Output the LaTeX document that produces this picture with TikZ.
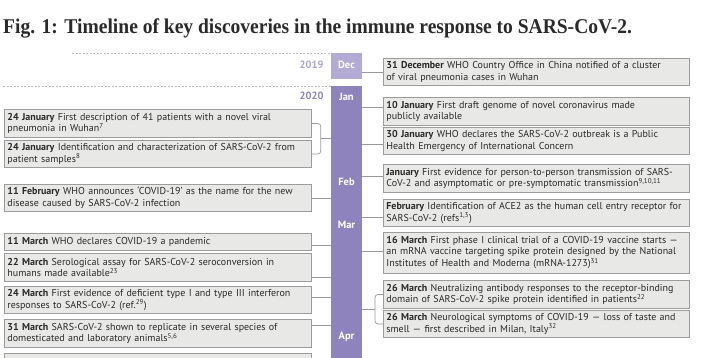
\documentclass[tikz,border=0pt]{standalone}
\usepackage{fontspec}
\setmainfont{PT Sans}
\newfontfamily\titlefont{Liberation Serif}
\usetikzlibrary{positioning,calc}
\definecolor{boxfill}{HTML}{E8E8E6}
\definecolor{boxline}{HTML}{9C9C9C}
\definecolor{linkgrey}{HTML}{9A9A9A}
\definecolor{janpurple}{HTML}{8F83BE}
\definecolor{decpurple}{HTML}{B4AAD6}
\definecolor{yrlight}{HTML}{ACA3CF}
\definecolor{yrdark}{HTML}{8C84B4}
\definecolor{ink}{HTML}{2A2A2A}
\newcommand\sref[1]{\textsuperscript{#1}}
\newcommand\evtfont{\fontsize{10}{11.8}\selectfont\color{ink}}

\begin{document}
\begin{tikzpicture}[x=1pt, y=-1pt,
  evt/.style={draw=boxline, fill=boxfill, line width=0.8pt, text width=#1,
    align=left, inner xsep=3pt, inner ysep=0pt, minimum height=27.5pt,
    anchor=west, font=\evtfont},
  evt/.default=301pt,
  bar/.style={inner sep=0pt, minimum width=31pt, anchor=north west},
  mon/.style={text=white, font=\fontsize{10.5}{12}\selectfont\bfseries},
  yr/.style={anchor=east, font=\fontsize{10.5}{12}\selectfont\bfseries},
  link/.style={draw=linkgrey, line width=0.7pt},
  guide/.style={draw=boxline!70, line width=0.5pt, dash pattern=on 2pt off 1.5pt}
]
\useasboundingbox (0,0) rectangle (705,358);

% title
\node[anchor=west, inner sep=0pt, text=ink] (title) at (3,28)
  {\titlefont\bfseries\fontsize{21}{24}\selectfont\scalebox{0.93}[1]{Fig. 1: Timeline of key discoveries in the immune response to SARS-CoV-2.}};

% timeline bar
\node[bar, fill=decpurple, minimum height=26pt] (decbar) at (331,53) {};
\node[bar, fill=janpurple, minimum height=320pt] (janbar) at (331,86) {};
\foreach \m/\y in {Dec/65, Jan/97, Feb/182, Mar/225, Apr/337}
  \node[mon] (m\m) at (346.5,\y) {\m};

\node[yr, text=yrlight] (y2019) at (327,65) {2019};
\node[yr, text=yrdark] (y2020) at (327,96) {2020};
\coordinate (d19) at (72,53);
\coordinate (d20) at (3,86);
\draw[guide] (d19) -- (decbar.north west);
\draw[guide] (d20) -- (janbar.north west);

% left column
\node[evt] (L1) at (4,123.5) {\textbf{24 January} First description of 41 patients with a novel viral\\pneumonia in Wuhan\sref{7}};
\node[evt] (L2) at (4,154) {\textbf{24 January} Identification and characterization of SARS-CoV-2 from\\patient samples\sref{8}};
\node[evt] (L3) at (4,198) {\textbf{11 February} WHO announces ‘COVID-19’ as the name for the new\\disease caused by SARS-CoV-2 infection};
\node[evt, minimum height=17pt] (L4) at (4,241.5) {\textbf{11 March} WHO declares COVID-19 a pandemic};
\node[evt] (L5) at (4,267.5) {\textbf{22 March} Serological assay for SARS-CoV-2 seroconversion in\\humans made available\sref{23}};
\node[evt] (L6) at (4,300) {\textbf{24 March} First evidence of deficient type I and type III interferon\\responses to SARS-CoV-2 (ref.\sref{29})};
\node[evt] (L7) at (4,333.5) {\textbf{31 March} SARS-CoV-2 shown to replicate in several species of\\domesticated and laboratory animals\sref{5,6}};
\node[evt] (L8) at (4,367) {};

% right column
\node[evt=300pt] (R1) at (383,72) {\textbf{31 December} WHO Country Office in China notified of a cluster\\of viral pneumonia cases in Wuhan};
\node[evt=300pt] (R2) at (383,111.5) {\textbf{10 January} First draft genome of novel coronavirus made\\publicly available};
\node[evt=300pt] (R3) at (383,141) {\textbf{30 January} WHO declares the SARS-CoV-2 outbreak is a Public\\Health Emergency of International Concern};
\node[evt=300pt] (R4) at (383,178.5) {\textbf{January} First evidence for person-to-person transmission of SARS-\\CoV-2 and asymptomatic or pre-symptomatic transmission\sref{9,10,11}};
\node[evt=300pt] (R5) at (383,213) {\textbf{February} Identification of ACE2 as the human cell entry receptor for\\SARS-CoV-2 (refs\sref{1,3})};
\node[evt=300pt, minimum height=41pt] (R6) at (383,252.5) {\textbf{16 March} First phase I clinical trial of a COVID-19 vaccine starts —\\an mRNA vaccine targeting spike protein designed by the National\\Institutes of Health and Moderna (mRNA-1273)\sref{31}};
\node[evt=300pt] (R7) at (383,294.5) {\textbf{26 March} Neutralizing antibody responses to the receptor-binding\\domain of SARS-CoV-2 spike protein identified in patients\sref{22}};
\node[evt=300pt] (R8) at (383,324) {\textbf{26 March} Neurological symptoms of COVID-19 — loss of taste and\\smell — first described in Milan, Italy\sref{32}};

% connectors
\draw[link, rounded corners=3pt] (L1.east) -- ++(9,0) |- (L2.east);
\coordinate (lbr) at ($(L1.east)!.5!(L2.east)+(9,0)$);
\draw[link] (lbr) -- (lbr -| janbar.west);
\foreach \n/\dy in {L3/0, L4/-3.5, L5/-9.5, L6/3, L7/8.5} {
  \coordinate (p\n) at ([yshift=\dy pt]\n.east);
  \draw[link] (p\n) -- (p\n -| janbar.west);
}
\draw[link] (R1.west) -- (R1.west -| decbar.east);
\foreach \n/\dy in {R2/4.5, R3/-3, R4/2.5, R5/-4, R6/1.5} {
  \coordinate (p\n) at ([yshift=\dy pt]\n.west);
  \draw[link] (p\n) -- (p\n -| janbar.east);
}
\draw[link, rounded corners=3pt] (R7.west) -- ++(-8,0) |- (R8.west);
\coordinate (rbr) at ($(R7.west)!.5!(R8.west)+(-8,0)$);
\draw[link] (rbr) -- (rbr -| janbar.east);
\end{tikzpicture}
\end{document}
